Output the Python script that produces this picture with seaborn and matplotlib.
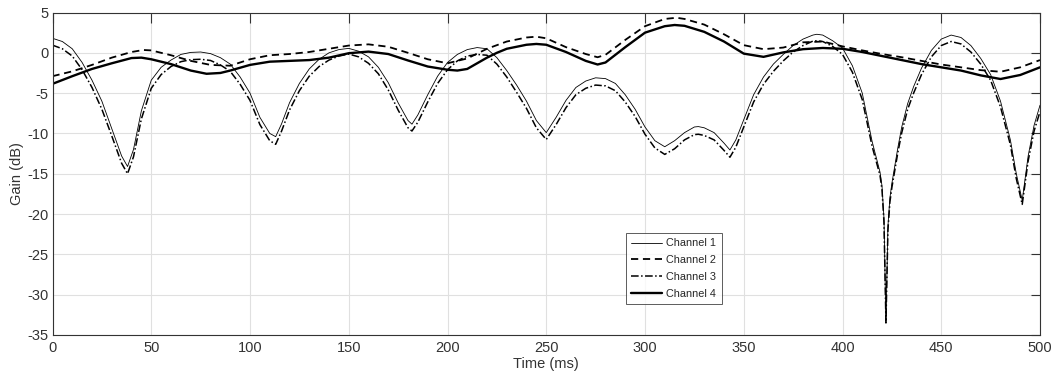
import numpy as np
import pandas as pd
import matplotlib
matplotlib.use("Agg")
import matplotlib.pyplot as plt
import seaborn as sns

# -----------------------------
# Values
# -----------------------------
# channels 1 and 3 have sharp notches, so they get a finer time grid
t_fine = [0, 5, 10, 15, 20, 25, 30, 35, 38, 41,
          45, 50, 55, 60, 65, 70, 75, 80, 85, 90,
          95, 100, 105, 110, 113, 116, 120, 125, 130, 135,
          140, 145, 150, 155, 160, 165, 170, 175, 180, 182,
          185, 190, 195, 200, 205, 210, 215, 220, 225, 230,
          235, 240, 245, 250, 255, 260, 265, 270, 275, 280,
          285, 290, 295, 300, 305, 310, 315, 320, 325, 327,
          330, 335, 340, 343, 346, 350, 355, 360, 365, 370,
          375, 380, 385, 387, 390, 395, 400, 405, 410, 415,
          419, 420, 421, 422, 423, 424, 425, 428, 430, 433,
          436, 440, 445, 450, 455, 460, 465, 470, 475, 480,
          485, 488, 491, 494, 497, 500]

channel_1 = [1.8, 1.4, 0.5, -1.2, -3.4, -6.0, -9.4, -12.8, -14.1, -12.0,
             -7.2, -3.4, -1.8, -0.9, -0.2, 0.05, 0.1, -0.1, -0.6, -1.4,
             -3.0, -5.0, -8.0, -10.0, -10.4, -8.8, -6.2, -3.8, -2.0, -0.8,
             0.0, 0.4, 0.55, 0.2, -0.5, -1.8, -3.7, -6.2, -8.4, -8.85,
             -7.7, -5.2, -2.9, -1.2, -0.2, 0.4, 0.65, 0.5, -0.6, -2.2,
             -4.0, -6.0, -8.4, -9.9, -8.0, -5.9, -4.3, -3.5, -3.1, -3.2,
             -3.8, -5.2, -7.0, -9.2, -10.9, -11.65, -10.9, -9.9, -9.2, -9.15,
             -9.3, -9.9, -11.2, -12.05, -10.8, -8.3, -5.2, -3.0, -1.4, -0.2,
             0.9, 1.7, 2.2, 2.3, 2.2, 1.5, 0.6, -1.6, -5.0, -11.0,
             -14.8, -16.5, -20.5, -33.5, -21.5, -18.0, -16.2, -11.8, -9.2, -6.3,
             -4.2, -1.9, 0.3, 1.7, 2.2, 1.9, 0.9, -0.7, -2.7, -6.0,
             -10.8, -15.0, -18.3, -12.8, -9.0, -6.5]

channel_3 = [0.95, 0.5, -0.4, -2.1, -4.3, -7.0, -10.3, -13.7, -15.0, -12.9,
             -8.2, -4.4, -2.7, -1.7, -1.1, -0.85, -0.8, -0.95, -1.5, -2.3,
             -3.9, -5.9, -8.9, -10.9, -11.35, -9.7, -7.1, -4.7, -2.9, -1.7,
             -0.9, -0.4, -0.15, -0.5, -1.3, -2.6, -4.6, -7.1, -9.3, -9.7,
             -8.6, -6.1, -3.8, -2.1, -1.0, -0.4, -0.2, -0.3, -1.4, -3.0,
             -4.9, -6.9, -9.3, -10.75, -8.9, -6.8, -5.2, -4.4, -4.0, -4.1,
             -4.7, -6.1, -7.9, -10.1, -11.8, -12.6, -11.9, -10.8, -10.15, -10.1,
             -10.25, -10.8, -12.1, -12.95, -11.7, -9.2, -6.1, -3.9, -2.3, -1.0,
             0.1, 0.9, 1.45, 1.5, 1.4, 0.8, -0.2, -2.4, -5.8, -11.6,
             -15.2, -17.0, -21.0, -33.5, -22.0, -18.5, -16.7, -12.4, -9.9, -7.0,
             -5.0, -2.7, -0.5, 0.9, 1.4, 1.1, 0.1, -1.4, -3.4, -6.7,
             -11.4, -15.6, -18.8, -13.4, -9.7, -7.3]

t_ch2 = [0, 10, 20, 30, 40, 46, 50, 60, 70, 80,
         90, 100, 110, 120, 130, 140, 150, 160, 170, 180,
         190, 200, 210, 220, 230, 240, 245, 250, 260, 270,
         276, 280, 290, 300, 310, 316, 320, 330, 340, 350,
         360, 370, 380, 390, 400, 410, 420, 430, 440, 450,
         460, 470, 480, 490, 500]
channel_2 = [-2.9, -2.3, -1.5, -0.6, 0.1, 0.35, 0.3, -0.3, -1.0, -1.5,
             -1.6, -0.8, -0.3, -0.15, 0.1, 0.5, 0.9, 1.05, 0.75, 0.0,
             -0.8, -1.3, -0.7, 0.5, 1.4, 1.9, 2.0, 1.8, 0.7, -0.15,
             -0.55, -0.25, 1.6, 3.3, 4.2, 4.35, 4.2, 3.5, 2.3, 0.95,
             0.45, 0.65, 1.3, 1.4, 0.8, 0.3, -0.15, -0.55, -1.0, -1.45,
             -1.8, -2.15, -2.35, -1.8, -0.9]

t_ch4 = [0, 10, 20, 30, 40, 45, 50, 60, 70, 78,
         85, 90, 100, 110, 120, 130, 140, 150, 160, 170,
         180, 190, 200, 205, 210, 215, 220, 225, 230, 240,
         245, 250, 260, 270, 276, 280, 290, 300, 310, 315,
         320, 330, 340, 350, 360, 370, 380, 390, 400, 410,
         420, 430, 440, 450, 460, 470, 480, 490, 500]
channel_4 = [-3.85, -2.9, -2.0, -1.3, -0.65, -0.6, -0.8, -1.4, -2.2, -2.6,
             -2.5, -2.2, -1.5, -1.1, -1.0, -0.9, -0.6, -0.05, 0.15, -0.15,
             -0.95, -1.7, -2.1, -2.2, -2.0, -1.3, -0.6, 0.0, 0.5, 1.0,
             1.1, 1.0, 0.1, -1.0, -1.45, -1.2, 0.7, 2.5, 3.3, 3.45,
             3.35, 2.6, 1.4, -0.1, -0.5, 0.05, 0.45, 0.6, 0.5, 0.1,
             -0.4, -0.9, -1.4, -1.8, -2.2, -2.8, -3.25, -2.75, -1.8]

x_ticks = [0, 50, 100, 150, 200, 250, 300, 350, 400, 450, 500]
y_ticks = [5, 0, -5, -10, -15, -20, -25, -30, -35]

# -----------------------------
# Style (MATLAB-like figure)
# -----------------------------
sns.set_theme(style="white")
plt.rcParams["font.family"] = ["Liberation Sans", "DejaVu Sans"]
plt.rcParams["axes.unicode_minus"] = False  # plain hyphen minus like the original

fig = plt.figure(figsize=(10.55, 3.9), dpi=100)
ax = fig.add_axes([52.5 / 1055, 1 - 335 / 390, (1040 - 52.5) / 1055, (335 - 12.5) / 390])

series = [
    ("Channel 1", t_fine, channel_1, dict(linewidth=0.6, linestyle="-")),
    ("Channel 2", t_ch2, channel_2, dict(linewidth=1.3, linestyle=(0, (4, 2.6)))),
    ("Channel 3", t_fine, channel_3, dict(linewidth=1.1, linestyle=(0, (5, 1.6, 1, 1.6)))),
    ("Channel 4", t_ch4, channel_4, dict(linewidth=1.7, linestyle="-")),
]
for name, t, v, kw in series:
    sns.lineplot(x=t, y=v, ax=ax, color="black", label=name, **kw)

ax.set_xlim(0, 500)
ax.set_ylim(-35, 5)
ax.set_xticks(x_ticks)
ax.set_yticks(y_ticks)
ax.grid(True, color="#e0e0e0", linewidth=0.8)
ax.set_axisbelow(True)
for sp in ax.spines.values():
    sp.set_color("#333333")
    sp.set_linewidth(0.8)
ax.tick_params(axis="both", direction="in", top=True, right=True, colors="#333333",
               labelcolor="#333333", labelsize=10.5, width=0.8)
ax.tick_params(axis="x", length=7.5, pad=4)
ax.tick_params(axis="y", length=6.5, pad=3)
ax.set_xlabel("Time (ms)", fontsize=10.5, color="#333333", labelpad=2)
ax.set_ylabel("Gain (dB)", fontsize=10.5, color="#333333", labelpad=2)

leg = ax.legend(loc="upper left", bbox_to_anchor=(626 / 1055, 1 - 233 / 390),
                bbox_transform=fig.transFigure, borderaxespad=0, fontsize=7.8,
                frameon=True, fancybox=False, handlelength=2.8, handletextpad=0.4,
                labelspacing=0.62, borderpad=0.5)
leg.get_frame().set_edgecolor("#333333")
leg.get_frame().set_linewidth(0.7)

fig.savefig("out.png", dpi=100)
